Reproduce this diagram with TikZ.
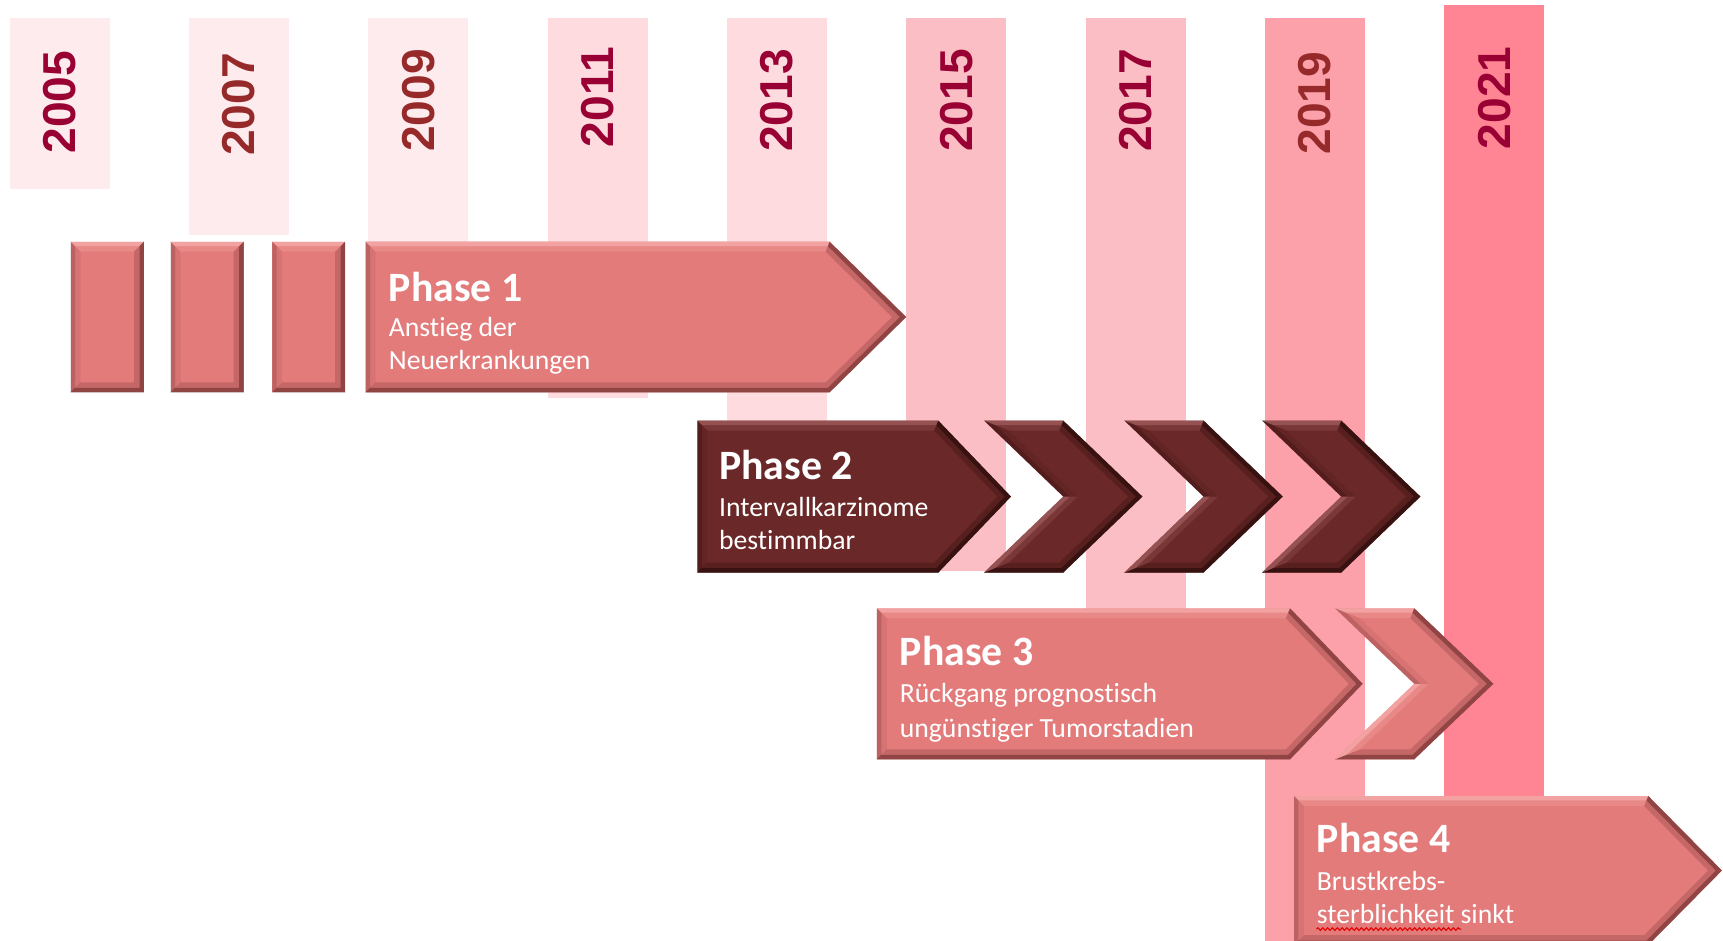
\documentclass[tikz,border=0pt]{standalone}
\usepackage{fontspec}
\usetikzlibrary{decorations.pathmorphing}
\newfontfamily\yearfont{Liberation Sans}
\newfontfamily\calfont[Ligatures=CommonOff]{Carlito}

% year columns, lightest to strongest
\definecolor{colA}{RGB}{254,235,238}
\definecolor{colB}{RGB}{253,219,223}
\definecolor{colC}{RGB}{252,190,197}
\definecolor{colD}{RGB}{252,160,170}
\definecolor{colE}{RGB}{255,133,148}
\definecolor{yrcrimson}{RGB}{153,0,51}
\definecolor{yrbrown}{RGB}{150,42,42}
% shape palettes: base fill, lit bevel, shaded bevel
\definecolor{salmonbase}{RGB}{227,123,123}
\definecolor{salmonlight}{RGB}{250,180,178}
\definecolor{salmondark}{RGB}{110,45,45}
\definecolor{maroonbase}{RGB}{107,40,40}
\definecolor{maroonlight}{RGB}{170,100,100}
\definecolor{maroondark}{RGB}{35,8,8}

% ---------- bevelled rectangle: palette, x1, y1, x2, y2, bevel, opacity
\newcommand\bevelrect[7]{%
  \pgfmathsetmacro\bxa{#2+#6}\pgfmathsetmacro\bya{#3+#6}%
  \pgfmathsetmacro\bxb{#4-#6}\pgfmathsetmacro\byb{#5-#6}%
  \pgfmathsetmacro\bhalf{#7*0.4}%
  \fill[#1light, opacity=#7] (#2,#3) -- (#4,#3) -- (\bxb,\bya) -- (\bxa,\bya) -- cycle;
  \fill[#1dark, opacity=#7] (#4,#3) -- (#4,#5) -- (\bxb,\byb) -- (\bxb,\bya) -- cycle;
  \fill[#1dark, opacity=#7] (#4,#5) -- (#2,#5) -- (\bxa,\byb) -- (\bxb,\byb) -- cycle;
  \fill[#1dark, opacity=\bhalf] (#2,#5) -- (#2,#3) -- (\bxa,\bya) -- (\bxa,\byb) -- cycle;
}
\newcommand\ppbox[5]{%
  \fill[#1base] (#2,#3) rectangle (#4,#5);
  \bevelrect{#1}{#2}{#3}{#4}{#5}{9}{0.25}%
  \bevelrect{#1}{#2}{#3}{#4}{#5}{4}{0.6}%
}

% ---------- bevelled pentagon arrow: palette, x1, y1, shoulder, tip, y2, bevel, opacity
\newcommand\bevelarrow[8]{%
  \pgfmathsetmacro\hh{(#6-#3)/2}\pgfmathsetmacro\ym{(#3+#6)/2}%
  \pgfmathsetmacro\pp{#5-#4}\pgfmathsetmacro\LL{sqrt(\pp*\pp+\hh*\hh)}%
  \pgfmathsetmacro\ax{#2+#7}\pgfmathsetmacro\ayt{#3+#7}\pgfmathsetmacro\ayb{#6-#7}%
  \pgfmathsetmacro\bx{#4-#7*(\LL-\pp)/\hh}\pgfmathsetmacro\cx{#5-#7*\LL/\hh}%
  \pgfmathsetmacro\bhalf{#8*0.4}%
  \fill[#1light, opacity=#8] (#2,#3) -- (#4,#3) -- (\bx,\ayt) -- (\ax,\ayt) -- cycle;
  \fill[#1dark, opacity=#8] (#4,#3) -- (#5,\ym) -- (\cx,\ym) -- (\bx,\ayt) -- cycle;
  \fill[#1dark, opacity=#8] (#5,\ym) -- (#4,#6) -- (\bx,\ayb) -- (\cx,\ym) -- cycle;
  \fill[#1dark, opacity=#8] (#4,#6) -- (#2,#6) -- (\ax,\ayb) -- (\bx,\ayb) -- cycle;
  \fill[#1dark, opacity=\bhalf] (#2,#6) -- (#2,#3) -- (\ax,\ayt) -- (\ax,\ayb) -- cycle;
}
\newcommand\pparrow[6]{%
  \pgfmathsetmacro\ymid{(#3+#6)/2}%
  \fill[#1base] (#2,#3) -- (#4,#3) -- (#5,\ymid) -- (#4,#6) -- (#2,#6) -- cycle;
  \bevelarrow{#1}{#2}{#3}{#4}{#5}{#6}{9}{0.25}%
  \bevelarrow{#1}{#2}{#3}{#4}{#5}{#6}{4}{0.6}%
}

% ---------- bevelled chevron: palette, left, y1, width, depth, y2, bevel, opacity
\newcommand\bevelchevron[8]{%
  \pgfmathsetmacro\hh{(#6-#3)/2}\pgfmathsetmacro\ym{(#3+#6)/2}%
  \pgfmathsetmacro\Ld{sqrt(#5*#5+\hh*\hh)}%
  \pgfmathsetmacro\xs{#2+#4-#5}\pgfmathsetmacro\xt{#2+#4}\pgfmathsetmacro\xn{#2+#5}%
  \pgfmathsetmacro\ayt{#3+#7}\pgfmathsetmacro\ayb{#6-#7}%
  \pgfmathsetmacro\ax{#2+#7*(#5+\Ld)/\hh}%
  \pgfmathsetmacro\bx{\xs-#7*(\Ld-#5)/\hh}%
  \pgfmathsetmacro\cx{\xt-#7*\Ld/\hh}%
  \pgfmathsetmacro\fx{\xn+#7*\Ld/\hh}%
  \pgfmathsetmacro\bhalf{#8*0.4}%
  \fill[#1light, opacity=#8] (#2,#3) -- (\xs,#3) -- (\bx,\ayt) -- (\ax,\ayt) -- cycle;
  \fill[#1dark, opacity=#8] (\xs,#3) -- (\xt,\ym) -- (\cx,\ym) -- (\bx,\ayt) -- cycle;
  \fill[#1dark, opacity=#8] (\xt,\ym) -- (\xs,#6) -- (\bx,\ayb) -- (\cx,\ym) -- cycle;
  \fill[#1dark, opacity=#8] (\xs,#6) -- (#2,#6) -- (\ax,\ayb) -- (\bx,\ayb) -- cycle;
  \fill[#1light, opacity=#8] (#2,#6) -- (\xn,\ym) -- (\fx,\ym) -- (\ax,\ayb) -- cycle;
  \fill[#1dark, opacity=\bhalf] (\xn,\ym) -- (#2,#3) -- (\ax,\ayt) -- (\fx,\ym) -- cycle;
}
\newcommand\ppchevron[6]{%
  \pgfmathsetmacro\ymid{(#3+#6)/2}%
  \fill[#1base] (#2,#3) -- ({#2+#4-#5},#3) -- ({#2+#4},\ymid) -- ({#2+#4-#5},#6)
     -- (#2,#6) -- ({#2+#5},\ymid) -- cycle;
  \bevelchevron{#1}{#2}{#3}{#4}{#5}{#6}{9}{0.25}%
  \bevelchevron{#1}{#2}{#3}{#4}{#5}{#6}{4}{0.6}%
}

\begin{document}
\begin{tikzpicture}[x=0.5pt, y=-0.5pt,
  yearlabel/.style={rotate=90, inner sep=0pt,
    font=\yearfont\bfseries\fontsize{21}{25}\selectfont},
  phasetitle/.style={anchor=base west, inner sep=0pt, text=white,
    font=\calfont\bfseries\fontsize{19}{23}\selectfont},
  phasetext/.style={anchor=base west, inner sep=0pt, text=white,
    font=\calfont\fontsize{12.6}{15}\selectfont},
  squiggle/.style={red!90!black, line width=0.5pt,
    decorate, decoration={snake, amplitude=0.6pt, segment length=2.2pt}}]

\useasboundingbox (0,0) rectangle (1568,856);
\clip (0,0) rectangle (1568,856);
\fill[white] (0,0) rectangle (1568,856);

% year columns
\fill[colA] (8.7,16)    rectangle ++(91,156);
\fill[colA] (171.9,16)  rectangle ++(91,198);
\fill[colA] (335.1,16)  rectangle ++(91,224);
\fill[colB] (498.3,16)  rectangle ++(91,346.5);
\fill[colB] (661.5,16)  rectangle ++(91,434);
\fill[colC] (824.7,16)  rectangle ++(91,504);
\fill[colC] (987.9,16)  rectangle ++(91,564);
\fill[colD] (1151.1,16) rectangle ++(91,840);
\fill[colE] (1314.3,5)  rectangle ++(91,755);

% year labels
\node[yearlabel, text=yrcrimson] (y2005) at (54.2,93)   {2005};
\node[yearlabel, text=yrbrown]   (y2007) at (217.4,95)  {2007};
\node[yearlabel, text=yrbrown]   (y2009) at (380.6,91.5){2009};
\node[yearlabel, text=yrcrimson] (y2011) at (543.8,88.5){2011};
\node[yearlabel, text=yrcrimson] (y2013) at (707,91.5)  {2013};
\node[yearlabel, text=yrcrimson] (y2015) at (870.2,91.5){2015};
\node[yearlabel, text=yrcrimson] (y2017) at (1033.4,91.5){2017};
\node[yearlabel, text=yrbrown]   (y2019) at (1196.6,94) {2019};
\node[yearlabel, text=yrcrimson] (y2021) at (1359.8,89) {2021};

% row 1: three blocks and phase 1
\ppbox{salmon}{64.3}{220}{131}{357}
\ppbox{salmon}{155.3}{220}{221.7}{357}
\ppbox{salmon}{247.8}{220}{314}{357}
\pparrow{salmon}{332.8}{220}{755}{824.6}{357}

% row 2: phase 2 and three chevrons
\pparrow{maroon}{634.7}{382.8}{853.9}{920}{521}
\ppchevron{maroon}{895.6}{382.8}{144}{72}{521}
\ppchevron{maroon}{1023.3}{382.8}{144}{72}{521}
\ppchevron{maroon}{1148.6}{382.8}{144}{72}{521}

% row 3: phase 3 and one chevron
\pparrow{salmon}{798}{553.6}{1174}{1240}{691}
\ppchevron{salmon}{1215}{553.6}{144}{72}{691}

% row 4: phase 4
\pparrow{salmon}{1177.6}{724.4}{1500}{1567}{860}

% phase texts
\node[phasetitle] (p1) at (353.5,274.5) {Phase 1};
\node[phasetext]  (p1a) at (353.5,306.5) {Anstieg der};
\node[phasetext]  (p1b) at (353.5,336)   {Neuerkrankungen};

\node[phasetitle] (p2) at (654,436)    {Phase 2};
\node[phasetext]  (p2a) at (654,470)   {Intervallkarzinome};
\node[phasetext]  (p2b) at (654,500.5) {bestimmbar};

\node[phasetitle] (p3) at (818.5,605.5) {Phase 3};
\node[phasetext]  (p3a) at (818.5,639.5){Rückgang prognostisch};
\node[phasetext]  (p3b) at (818.5,671)  {ungünstiger Tumorstadien};

\node[phasetitle] (p4) at (1198,775.5)  {Phase 4};
\node[phasetext]  (p4a) at (1198,810)   {Brustkrebs-};
\node[phasetext]  (p4b) at (1198,840.5) {sterblichkeit sinkt};

% spell-check mark under the first word of the last line
\coordinate (sqa) at (1198,845.5);
\coordinate (sqb) at (1330,845.5);
\draw[squiggle] (sqa) -- (sqb);

\end{tikzpicture}
\end{document}
